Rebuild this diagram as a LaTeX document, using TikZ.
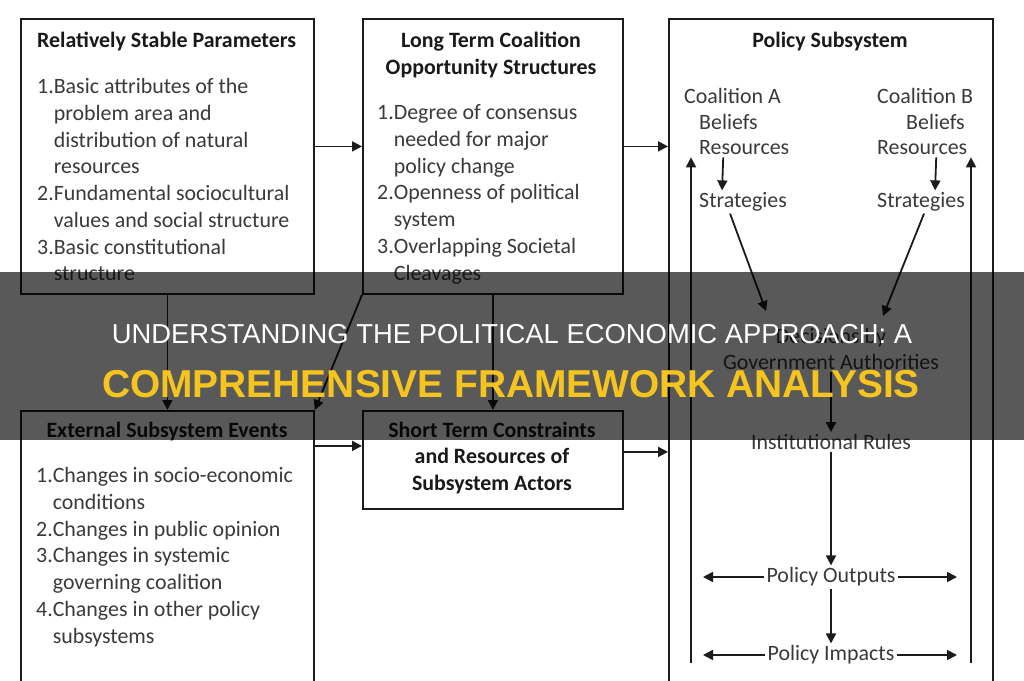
\documentclass[tikz,border=0pt]{standalone}
\usepackage{fontspec}
\setmainfont{Carlito}
\newfontfamily\bannerfont{Liberation Sans}
\usetikzlibrary{arrows.meta}
\definecolor{txtgray}{RGB}{58,58,58}
\definecolor{linegray}{RGB}{28,28,28}
\definecolor{titleyellow}{RGB}{246,196,30}

\begin{document}
\begin{tikzpicture}[x=1pt,y=-1pt,
  frame/.style={draw=linegray,line width=1.8pt,anchor=north west,inner sep=0pt},
  head/.style={font=\bfseries\fontsize{21.9}{26.4}\selectfont,text=black!90,inner sep=0pt,align=center},
  body/.style={font=\fontsize{21.9}{26.7}\selectfont,text=txtgray,inner sep=0pt,anchor=north west},
  sub/.style={font=\fontsize{21.9}{26.2}\selectfont,text=txtgray,inner sep=2pt,align=center},
  arr/.style={draw=linegray,line width=1.8pt,-{Triangle[length=10pt,width=10pt]}}]
\useasboundingbox (0,0) rectangle (1024,680);
\clip (0,0) rectangle (1024,680);
\fill[white] (0,0) rectangle (1024,680);

% the five boxes
\node[frame,minimum width=293pt,minimum height=275pt] (stable) at (20,18) {};
\node[frame,minimum width=260pt,minimum height=275pt] (longterm) at (362,18) {};
\node[frame,minimum width=324pt,minimum height=700pt] (subsys) at (668,18) {};
\node[frame,minimum width=293pt,minimum height=300pt] (external) at (20,410) {};
\node[frame,minimum width=260pt,minimum height=98pt] (shortterm) at (362,410) {};

\node[head,anchor=west] (stablehead) at (37,42) {Relatively Stable Parameters};
\node[body] (stablelist) at (37,75) {\begin{tabular}{@{}l@{}l@{}}
1.&Basic attributes of the\\&problem area and\\&distribution of natural\\&resources\\
2.&Fundamental sociocultural\\&values and social structure\\
3.&Basic constitutional\\&structure\end{tabular}};

\node[head] (longhead) at (491,55) {Long Term Coalition\\Opportunity Structures};
\node[body] (longlist) at (377,101) {\begin{tabular}{@{}l@{}l@{}}
1.&Degree of consensus\\&needed for major\\&policy change\\
2.&Openness of political\\&system\\
3.&Overlapping Societal\\&Cleavages\end{tabular}};

\node[head] (exthead) at (167,432) {External Subsystem Events};
\node[body] (extlist) at (36,464) {\begin{tabular}{@{}l@{}l@{}}
1.&Changes in socio-economic\\&conditions\\
2.&Changes in public opinion\\
3.&Changes in systemic\\&governing coalition\\
4.&Changes in other policy\\&subsystems\end{tabular}};

\node[head] (shorthead) at (492,458) {Short Term Constraints\\and Resources of\\Subsystem Actors};

% links between the boxes
\draw[arr] ([yshift=10pt]stable.east) -- ([yshift=10pt]longterm.west);
\draw[arr] ([yshift=10pt]longterm.east) -- ([yshift=10pt]longterm.east -| subsys.west);
\draw[arr] (stable) -- (external);
\draw[arr] (longterm.south west) -- (external.north east);
\draw[arr] (longterm) -- (shortterm);
\draw[arr] ([yshift=14pt]shortterm.west -| external.east) -- ([yshift=14pt]shortterm.west);
\draw[arr] ([yshift=8pt]shortterm.east) -- ([yshift=8pt]shortterm.east -| subsys.west);

% inside the policy subsystem
\node[head] (subhead) at (830,42) {Policy Subsystem};
\node[sub,anchor=west] (coalA) at (682,96) {Coalition A};
\node[sub,anchor=west] (belA) at (697,122) {Beliefs};
\node[sub,anchor=west] (resA) at (697,148) {Resources};
\node[sub,anchor=west] (stratA) at (697,202) {Strategies};
\node[sub,anchor=west] (coalB) at (875,96) {Coalition B};
\node[sub,anchor=west] (belB) at (904,122) {Beliefs};
\node[sub,anchor=west] (resB) at (875,148) {Resources};
\node[sub,anchor=west] (stratB) at (875,202) {Strategies};
\node[sub] (gov) at (831,349) {Decisions by\\Government Authorities};
\node[sub] (inst) at (831,442) {Institutional Rules};
\node[sub] (outputs) at (831,577) {Policy Outputs};
\node[sub] (impacts) at (831,655) {Policy Impacts};

\coordinate (feedA) at (691,663);
\coordinate (feedB) at (971,663);
\coordinate (sideL) at (703,0);
\coordinate (sideR) at (957,0);

\draw[arr] ([xshift=-21pt]resA.south) -- ([xshift=-21pt]stratA.north);
\draw[arr] ([xshift=14pt]resB.south) -- ([xshift=14pt]stratB.north);
\draw[arr] (feedA) -- (feedA |- resA.south);
\draw[arr] (feedB) -- (feedB |- resB.south);
\draw[arr] ([xshift=-13pt]stratA.south) -- ([xshift=-65pt,yshift=15pt]gov.north);
\draw[arr] ([xshift=3pt]stratB.south) -- ([xshift=52pt,yshift=10pt]gov.north);
\draw[arr] (gov) -- (inst);
\draw[arr] (inst) -- (outputs);
\draw[arr] (outputs) -- (impacts);
\draw[arr] (outputs.west) -- (outputs.west -| sideL);
\draw[arr] (outputs.east) -- (outputs.east -| sideR);
\draw[arr] (impacts.west) -- (impacts.west -| sideL);
\draw[arr] (impacts.east) -- (impacts.east -| sideR);

% title band
\fill[black,opacity=0.65] (0,272) rectangle (1024,440);
\node[anchor=base,inner sep=0pt,text=white,font=\bannerfont\fontsize{27.4}{30}\selectfont] (title) at (512,343) {UNDERSTANDING THE POLITICAL ECONOMIC APPROACH: A};
\node[anchor=base,inner sep=0pt,text=titleyellow,font=\bannerfont\bfseries\fontsize{38.9}{42}\selectfont] (subtitle) at (511,397) {COMPREHENSIVE FRAMEWORK ANALYSIS};
\end{tikzpicture}
\end{document}
